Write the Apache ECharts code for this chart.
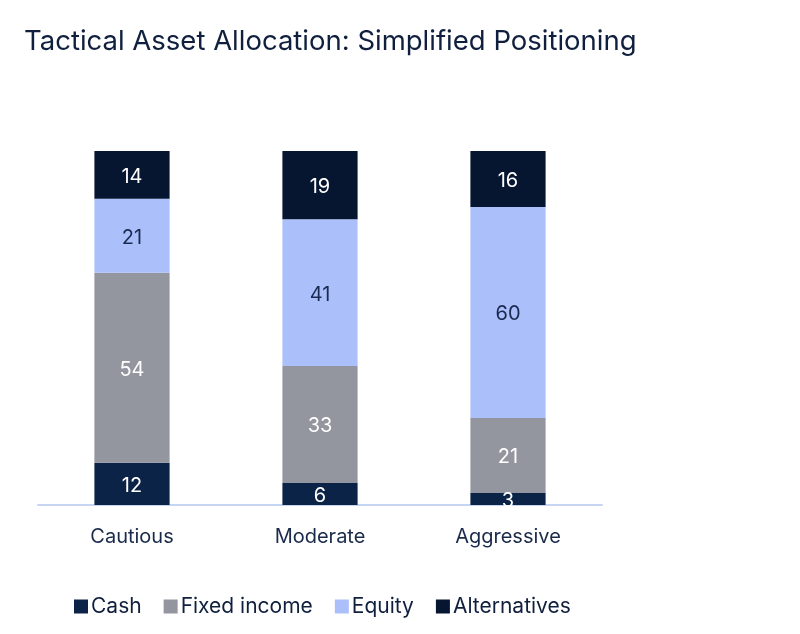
<!DOCTYPE html>
<html>
<head>
<meta charset="utf-8">
<script src="https://cdn.jsdelivr.net/npm/echarts@6/dist/echarts.min.js"></script>
<style>html,body{margin:0;padding:0;background:#fff;}#c{width:800px;height:634px;}</style>
</head>
<body>
<div id="c"></div>
<script>
const categories = ['Cautious', 'Moderate', 'Aggressive'];
const cash = [11.9, 6.2, 3.4];
const fixedIncome = [53.7, 33.1, 21.2];
const equity = [20.9, 41.4, 59.6];
const alternatives = [13.5, 19.3, 15.8];

const FONT = 'Inter';
const chart = echarts.init(document.getElementById('c'));
function mk(name, data, color, labelColor) {
  return {
    name: name, type: 'bar', stack: 'total', data: data, barWidth: '40%',
    itemStyle: { color: color },
    label: { show: true, position: 'inside', offset: [0, 2], color: labelColor, fontSize: 20, fontFamily: FONT,
      formatter: p => Math.round(p.value) }
  };
}
chart.setOption({
  animation: false,
  title: { text: 'Tactical Asset Allocation: Simplified Positioning', left: 19, top: 23,
    textStyle: { fontFamily: FONT, fontSize: 27.5, fontWeight: 'normal', color: '#0f1f3d' } },
  legend: { left: 69, top: 591, itemWidth: 14, itemHeight: 14, itemGap: 22, icon: 'rect',
    textStyle: { fontFamily: FONT, fontSize: 21, color: '#0f1f3d', padding: [0,0,0,-2] },
    data: ['Cash', 'Fixed income', 'Equity', 'Alternatives'] },
  grid: { left: 38, right: 198, top: 151, bottom: 129 },
  xAxis: { type: 'category', data: categories,
    axisLine: { lineStyle: { color: '#c6d6f2', width: 2 } }, axisTick: { show: false },
    axisLabel: { fontFamily: FONT, fontSize: 20, color: '#1a2a4a', margin: 22 } },
  yAxis: { type: 'value', min: 0, max: 100, show: false, splitLine: { show: false } },
  series: [
    mk('Cash', cash, '#0b2347', '#ffffff'),
    mk('Fixed income', fixedIncome, '#93959f', '#ffffff'),
    mk('Equity', equity, '#abc0fb', '#1a2a50'),
    mk('Alternatives', alternatives, '#061630', '#ffffff')
  ]
});
</script>
</body>
</html>
